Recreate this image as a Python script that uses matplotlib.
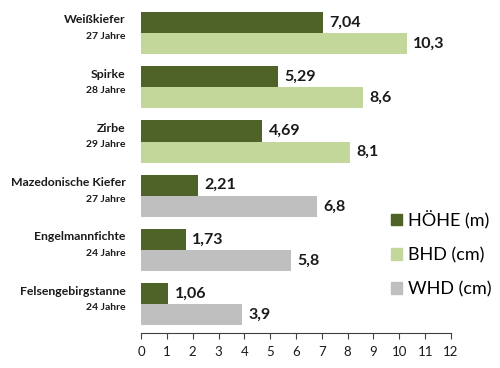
import numpy as np
import matplotlib.pyplot as plt
from matplotlib.patches import Patch

plt.rcParams['font.family'] = ['Lato', 'DejaVu Sans']

arten = ['Weißkiefer', 'Spirke', 'Zirbe', 'Mazedonische Kiefer',
         'Engelmannfichte', 'Felsengebirgstanne']
alter = ['27 Jahre', '28 Jahre', '29 Jahre', '27 Jahre', '24 Jahre', '24 Jahre']
hoehe = [7.04, 5.29, 4.69, 2.21, 1.73, 1.06]
durchmesser = [10.3, 8.6, 8.1, 6.8, 5.8, 3.9]
art_dm = ['BHD', 'BHD', 'BHD', 'WHD', 'WHD', 'WHD']

dunkel = '#4f6228'
hell = '#c4d79b'
grau = '#bfbfbf'

fig = plt.figure(figsize=(5, 3.68), dpi=100)
ax = fig.add_axes([0.282, 0.095, 0.62, 0.889])

y = np.arange(len(arten))
h = 0.39
farben = [hell if a == 'BHD' else grau for a in art_dm]
b1 = ax.barh(y - h / 2, hoehe, height=h, color=dunkel)
b2 = ax.barh(y + h / 2, durchmesser, height=h, color=farben)

def fmt(v):
    s = ('%.2f' % v) if round(v, 1) != v else ('%.1f' % v)
    return s.replace('.', ',')

for i in range(len(arten)):
    ax.annotate(fmt(hoehe[i]), (hoehe[i], y[i] - h / 2), xytext=(4.5, 0),
                textcoords='offset points', va='center', ha='left',
                fontsize=11.5, fontweight='bold', color='#1a1a1a')
    ax.annotate(fmt(durchmesser[i]), (durchmesser[i], y[i] + h / 2), xytext=(4.5, 0),
                textcoords='offset points', va='center', ha='left',
                fontsize=11.5, fontweight='bold', color='#1a1a1a')
    ax.annotate(arten[i], (0, y[i]), xycoords=('axes fraction', 'data'),
                xytext=(-11, 9.5), textcoords='offset points', ha='right', va='center',
                fontsize=8.8, fontweight='bold', color='#1a1a1a')
    ax.annotate(alter[i], (0, y[i]), xycoords=('axes fraction', 'data'),
                xytext=(-11, -2.5), textcoords='offset points', ha='right', va='center',
                fontsize=7.5, fontweight='bold', color='#1a1a1a')

ax.set_xlim(0, 12)
ax.set_ylim(5.53, -0.5)
ax.set_xticks(range(0, 13))
ax.set_yticks([])
for s in ['top', 'right', 'left']:
    ax.spines[s].set_visible(False)
ax.spines['bottom'].set_color('#404040')
ax.tick_params(axis='x', direction='out', length=4, color='#404040',
               labelsize=9.5, pad=5, labelcolor='#1a1a1a')

handles = [Patch(color=dunkel), Patch(color=hell), Patch(color=grau)]
fig.legend(handles, ['HÖHE (m)', 'BHD (cm)', 'WHD (cm)'], loc='center left',
           bbox_to_anchor=(0.75, 0.31), frameon=False, fontsize=13,
           handlelength=0.6, handleheight=0.6, handletextpad=0.35, labelspacing=1.0)

fig.savefig('out.png', dpi=100)
